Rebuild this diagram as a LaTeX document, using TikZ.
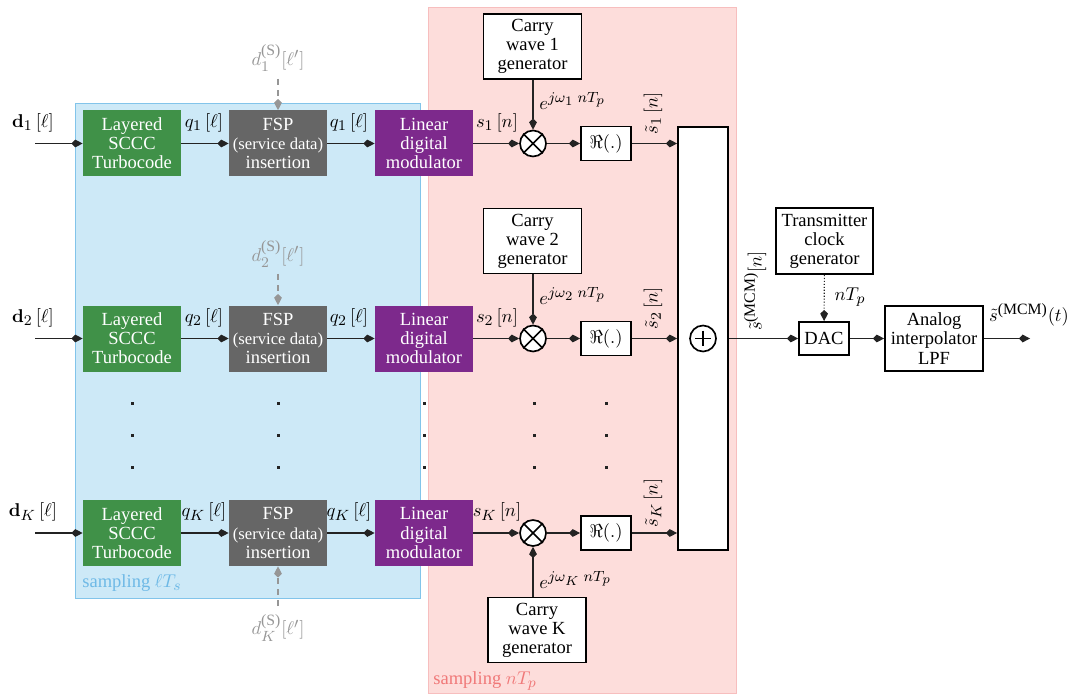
\documentclass[tikz,border=0pt]{standalone}
\usepackage{amsmath}
\usepackage[no-math]{fontspec}
\setmainfont{Liberation Serif}
\DeclareMathSizes{10}{10}{8.5}{6.8}
\usetikzlibrary{arrows.meta}
\definecolor{bluefill}{RGB}{205,233,247}
\definecolor{blueline}{RGB}{130,196,234}
\definecolor{bluetext}{RGB}{110,185,230}
\definecolor{pinkfill}{RGB}{253,221,219}
\definecolor{pinkline}{RGB}{247,190,190}
\definecolor{pinktext}{RGB}{240,120,120}
\definecolor{grnbox}{RGB}{64,145,72}
\definecolor{grybox}{RGB}{102,102,102}
\definecolor{purbox}{RGB}{125,41,140}
\definecolor{dsgray}{RGB}{150,150,150}
\definecolor{wire}{RGB}{35,35,35}
\begin{document}
\begin{tikzpicture}[x=0.54pt,y=-0.54pt,
  font=\fontsize{10}{10.3}\selectfont,
  colbox/.style={minimum width=98*0.54pt, minimum height=66*0.54pt, inner sep=0pt, align=center, text=white},
  gbox/.style={colbox, fill=grnbox},
  fbox/.style={colbox, fill=grybox},
  pbox/.style={colbox, fill=purbox},
  wbox/.style={draw=black, line width=1pt, fill=white, align=center, inner sep=0pt},
  genbox/.style={wbox, minimum width=98*0.54pt, minimum height=65*0.54pt},
  rbox/.style={wbox, minimum width=50*0.54pt, minimum height=34*0.54pt},
  mult/.style={circle, draw=black, line width=0.9pt, fill=white, minimum size=26*0.54pt, inner sep=0pt},
  tip/.style={-{Kite[length=6pt,width=4.2pt,inset=2pt]}},
  conn/.style={draw=wire, line width=0.6pt, tip},
  dconn/.style={draw=dsgray, line width=0.6pt, dashed, -{Kite[length=6pt,width=4.2pt,inset=2pt,fill=dsgray]}},
  lab/.style={inner sep=0pt},
  dslab/.style={inner sep=0pt, text=dsgray}
]
\useasboundingbox (0,0) rectangle (1070,695);
% sampling regions
\draw[pinkline, fill=pinkfill, line width=0.5pt] (428,7) rectangle (736,693);
\draw[blueline, fill=bluefill, line width=0.5pt] (75,103) rectangle (420,598);
\node[anchor=west, text=bluetext, inner sep=0pt] (sampS) at (82,583) {sampling $\ell T_s$};
\node[anchor=west, text=pinktext, inner sep=0pt] (sampP) at (433,681) {sampling $nT_p$};

% rows
\foreach \i/\y in {1/143.5, 2/338.5, K/533}{
  \node[gbox] (g\i) at (132,\y) {Layered\\SCCC\\Turbocode};
  \node[fbox] (f\i) at (278,\y) {FSP\\{\fontsize{9}{10.3}\selectfont(service data)}\\insertion};
  \node[pbox] (p\i) at (424,\y) {Linear\\digital\\modulator};
  \node[mult] (m\i) at (533,\y) {};
  \draw[line width=0.9pt] (m\i.north west) -- (m\i.south east) (m\i.north east) -- (m\i.south west);
  \node[rbox] (r\i) at (606,\y) {$\Re(.)$};
  \coordinate (in\i) at (35,\y);
  \draw[conn] (in\i) -- (g\i);
  \draw[conn] (g\i) -- (f\i);
  \draw[conn] (f\i) -- (p\i);
  \draw[conn] (p\i) -- (m\i);
  \draw[conn] (m\i) -- (r\i);
  \node[lab] (dl\i) at (33,\y-21) {$\mathbf{d}_{\i}\,[\ell]$};
  \node[lab] (qa\i) at (204,\y-21) {$q_{\i}\,[\ell]$};
  \node[lab] (qb\i) at (349,\y-21) {$q_{\i}\,[\ell]$};
  \node[lab] (sl\i) at (497,\y-21) {$s_{\i}\,[n]$};
  \node[lab, rotate=90] (st\i) at (653,\y-30) {$\tilde{s}_{\i}\,[n]$};
}

% service data inputs
\node[dslab] (ds1) at (278,58) {$d^{\text{(S)}}_1[\ell']$};
\coordinate (dsa1) at (278,79);
\draw[dconn] (dsa1) -- (f1.north);
\node[dslab] (ds2) at (278,254) {$d^{\text{(S)}}_2[\ell']$};
\coordinate (dsa2) at (278,274);
\draw[dconn] (dsa2) -- (f2.north);
\node[dslab] (dsK) at (278,628) {$d^{\text{(S)}}_K[\ell']$};
\coordinate (dsaK) at (278,606);
\draw[dconn] (dsaK) -- (fK.south);

% carrier generators
\node[genbox] (cw1) at (532.5,46.5) {Carry\\wave 1\\generator};
\node[genbox] (cw2) at (532.5,241) {Carry\\wave 2\\generator};
\node[genbox] (cwK) at (537,630) {Carry\\wave K\\generator};
\draw[conn] (cw1.south -| m1) -- (m1);
\draw[conn] (cw2.south -| m2) -- (m2);
\draw[conn] (cwK.north -| mK) -- (mK);
\node[lab, anchor=west] (e1) at (539,101) {$e^{j\omega_1\;nT_p}$};
\node[lab, anchor=west] (e2) at (539,296) {$e^{j\omega_2\;nT_p}$};
\node[lab, anchor=west] (eK) at (539,580) {$e^{j\omega_K\;nT_p}$};

% dots
\foreach \x in {132,278,424,534,606}
  \foreach \yy in {403,435,467}
    \fill[wire] (\x-1.5,\yy-1.5) rectangle (\x+1.5,\yy+1.5);

% summation
\node[draw=black, line width=1pt, fill=white, minimum width=50*0.54pt, minimum height=423*0.54pt, inner sep=0pt] (sumbox) at (703,338.5) {};
\node[mult] (sum) at (703,338.5) {};
\draw[line width=0.9pt] ([yshift=-6*0.54pt]sum.north) -- ([yshift=6*0.54pt]sum.south)
  ([xshift=6*0.54pt]sum.west) -- ([xshift=-6*0.54pt]sum.east);
\foreach \i in {1,2,K}
  \draw[conn] (r\i) -- (sumbox.west |- r\i);

% output chain
\node[rbox, minimum height=33*0.54pt] (dac) at (824,338.5) {DAC};
\node[genbox, minimum width=97*0.54pt, minimum height=66*0.54pt] (clk) at (824.5,241) {Transmitter\\clock\\generator};
\node[genbox] (lpf) at (934,338.5) {Analog\\interpolator\\LPF};
\coordinate (out) at (1030,338.5);
\draw[conn] (sumbox.east |- dac) -- (dac);
\draw[draw=wire, line width=0.6pt, densely dotted, tip] (clk) -- (dac);
\draw[conn] (dac) -- (lpf);
\draw[conn] (lpf) -- (out);
\node[lab, rotate=90] (smcm) at (755,291) {$\tilde{s}^{\text{(MCM)}}[n]$};
\node[lab] (ntp) at (850,297) {$nT_p$};
\node[lab] (smcmt) at (1029,315) {$\tilde{s}^{\text{(MCM)}}(t)$};
\end{tikzpicture}
\end{document}
